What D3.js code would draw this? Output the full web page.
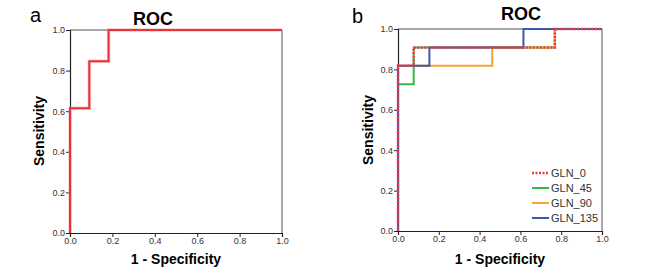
<!DOCTYPE html>
<html><head><meta charset="utf-8">
<script src="https://cdn.jsdelivr.net/npm/d3@7"></script>
<style>body{margin:0;background:#fff}svg{display:block;font-family:Arial,"Liberation Sans",sans-serif}</style>
</head><body><svg id="c" width="658" height="276"></svg>
<script>
// ROC step points (1 - specificity, sensitivity)
const rocA_fpr = [0, 0, 0.091, 0.091, 0.182, 0.182, 1];
const rocA_tpr = [0, 0.615, 0.615, 0.846, 0.846, 1, 1];

const seriesNames = ["GLN_0", "GLN_45", "GLN_90", "GLN_135"];
const seriesColors = ["#ee3a45", "#3cb64a", "#f7a233", "#3f57a8"];
const gln0_fpr = [0, 0, 0.077, 0.077, 0.769, 0.769, 1];
const gln0_tpr = [0, 0.818, 0.818, 0.909, 0.909, 1, 1];
const gln45_fpr = [0, 0, 0.077, 0.077, 0.769, 0.769, 1];
const gln45_tpr = [0, 0.727, 0.727, 0.909, 0.909, 1, 1];
const gln90_fpr = [0, 0, 0.462, 0.462, 0.769, 0.769, 1];
const gln90_tpr = [0, 0.818, 0.818, 0.909, 0.909, 1, 1];
const gln135_fpr = [0, 0, 0.154, 0.154, 0.615, 0.615, 1];
const gln135_tpr = [0, 0.818, 0.818, 0.909, 0.909, 1, 1];
const tickValues = [0, 0.2, 0.4, 0.6, 0.8, 1.0];

const svg = d3.select("#c");

function panel(opts) {
  const x = d3.scaleLinear().domain([0, 1]).range(opts.xr);
  const y = d3.scaleLinear().domain([0, 1]).range(opts.yr);
  const g = svg.append("g");
  // frame top/right (gray)
  g.append("line").attr("x1", x(0)).attr("x2", x(1)).attr("y1", y(1)).attr("y2", y(1)).attr("stroke", "#8a8a8a").attr("stroke-width", 1.5);
  g.append("line").attr("x1", x(1)).attr("x2", x(1)).attr("y1", y(1)).attr("y2", y(0)).attr("stroke", "#8a8a8a").attr("stroke-width", 1.5);
  const ax = g.append("g").attr("transform", `translate(0,${y(0)})`)
    .call(d3.axisBottom(x).tickValues(tickValues).tickFormat(d3.format(".1f")).tickSize(4).tickPadding(1));
  const ay = g.append("g").attr("transform", `translate(${x(0)},0)`)
    .call(d3.axisLeft(y).tickValues(tickValues).tickFormat(d3.format(".1f")).tickSize(4).tickPadding(1));
  [ax, ay].forEach(a => {
    a.select(".domain").attr("stroke", "#222").attr("stroke-width", 1.2);
    a.selectAll(".tick line").attr("stroke", "#222");
    a.selectAll(".tick text").attr("font-size", 9).attr("fill", "#333").attr("font-family", "Arial, 'Liberation Sans', sans-serif");
  });
  const line = d3.line().x(d => x(d[0])).y(d => y(d[1])).curve(d3.curveLinear);
  opts.series.forEach(s => {
    const pts = s.fx.map((v, i) => [v, s.ty[i]]);
    if (s.halo) g.append("path").attr("d", line(pts)).attr("fill", "none").attr("stroke", s.halo).attr("stroke-width", 3.5).attr("opacity", 0.5);
    g.append("path").attr("d", line(pts)).attr("fill", "none").attr("stroke", s.color)
      .attr("stroke-width", s.w).attr("stroke-dasharray", s.dash || null);
  });
  // labels
  svg.append("text").attr("x", opts.letter[0]).attr("y", opts.letter[1]).attr("font-size", 20).text(opts.letterText);
  svg.append("text").attr("x", opts.title[0]).attr("y", opts.title[1]).attr("text-anchor", "middle")
    .attr("font-size", 18).attr("font-weight", "bold").text("ROC");
  svg.append("text").attr("x", (opts.xr[0] + opts.xr[1]) / 2 + opts.xlOff).attr("y", 264).attr("text-anchor", "middle")
    .attr("font-size", 14).attr("font-weight", "bold").text("1 - Specificity");
  svg.append("text").attr("transform", `translate(${opts.ylab[0]},${opts.ylab[1]}) rotate(-90)`).attr("text-anchor", "middle")
    .attr("font-size", 14).attr("font-weight", "bold").text("Sensitivity");
  return {x, y, g};
}

panel({
  xr: [70, 282], yr: [233, 30], letter: [30, 22], letterText: "a", title: [153, 25], xlOff: 0, ylab: [44, 131],
  series: [{fx: rocA_fpr, ty: rocA_tpr, color: "#e8333d", w: 2, halo: "#f59aa0"}]
});

const pb = panel({
  xr: [398, 602], yr: [231, 29], letter: [352, 23], letterText: "b", title: [521, 20], xlOff: 0, ylab: [373, 130],
  series: [
    {fx: gln45_fpr, ty: gln45_tpr, color: seriesColors[1], w: 2},
    {fx: gln90_fpr, ty: gln90_tpr, color: seriesColors[2], w: 2},
    {fx: gln135_fpr, ty: gln135_tpr, color: seriesColors[3], w: 2},
    {fx: gln0_fpr, ty: gln0_tpr, color: seriesColors[0], w: 2.5, dash: "2,1.5"}
  ]
});

// legend
const leg = svg.append("g");
seriesNames.forEach((n, i) => {
  const yy = 173 + i * 15;
  leg.append("line").attr("x1", 532).attr("x2", 549).attr("y1", yy).attr("y2", yy)
    .attr("stroke", seriesColors[i]).attr("stroke-width", i === 0 ? 2.5 : 2).attr("stroke-dasharray", i === 0 ? "2,1.5" : null);
  leg.append("text").attr("x", 551).attr("y", yy + 4).attr("font-size", 11).attr("fill", "#333").text(n);
});
</script></body></html>
